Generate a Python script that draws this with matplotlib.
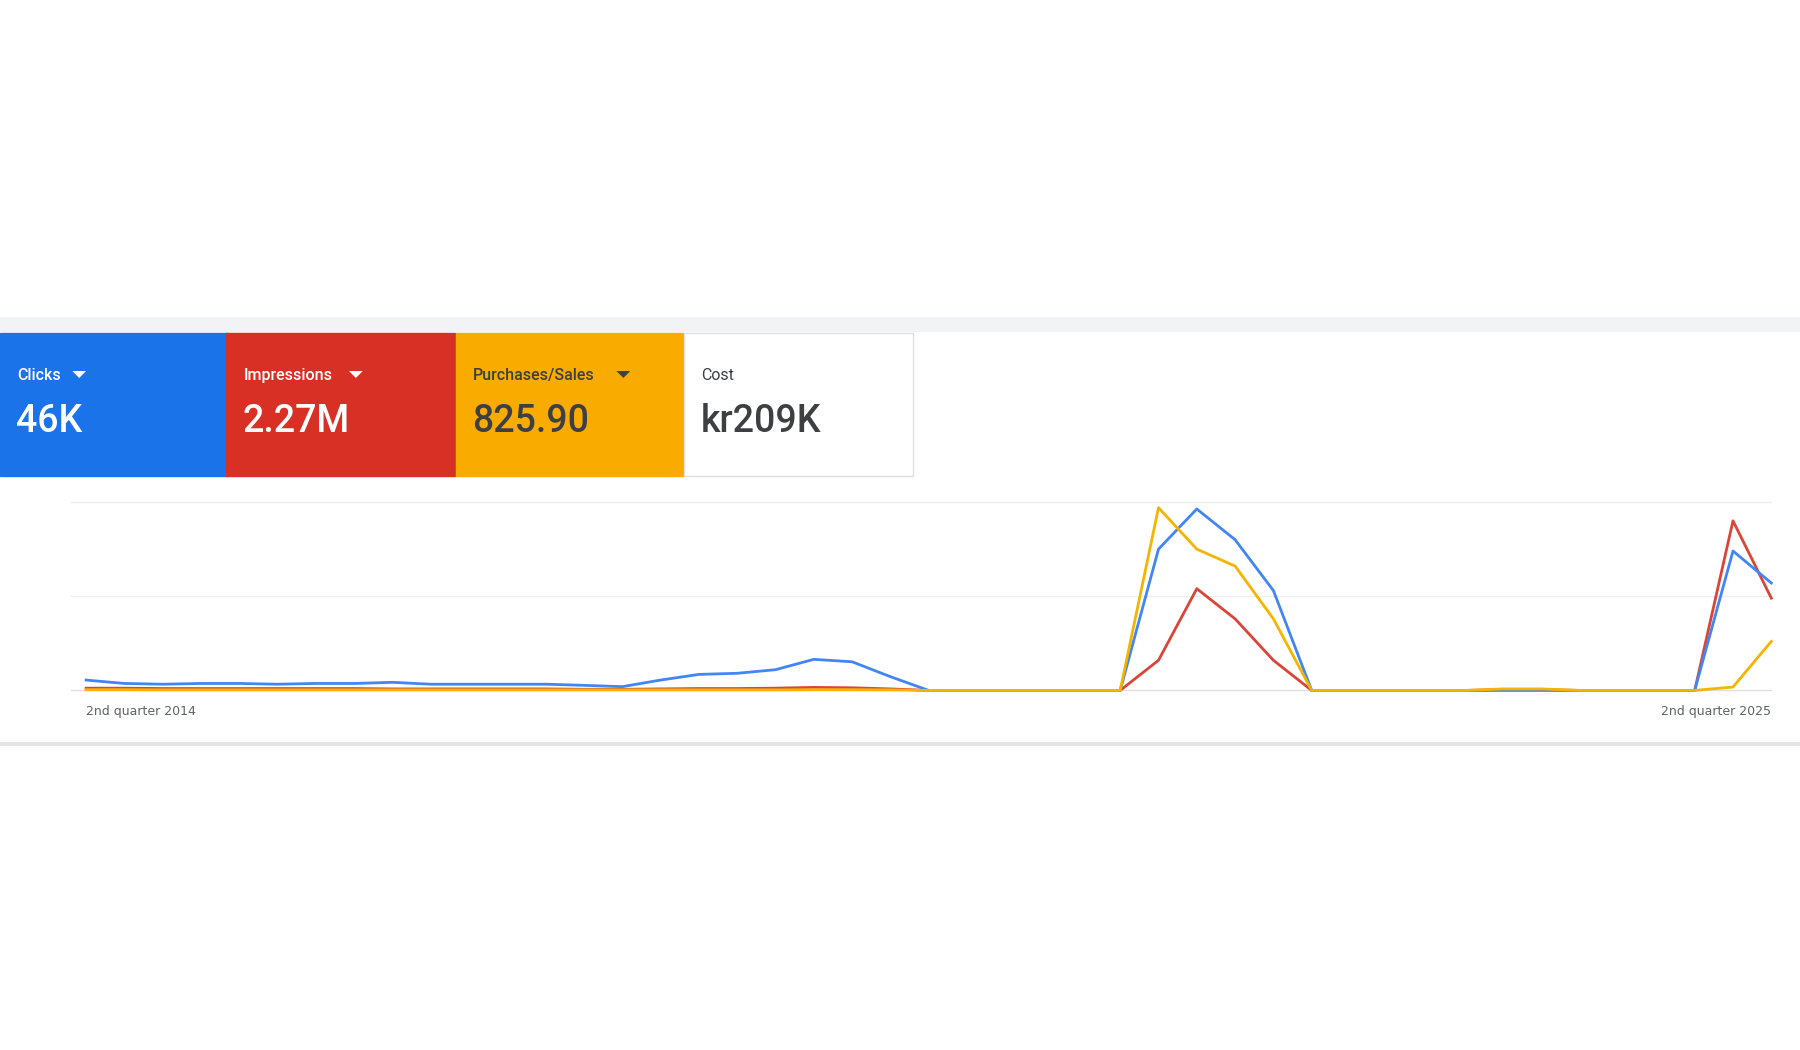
import matplotlib.pyplot as plt
from matplotlib.patches import Rectangle, Polygon

# quarterly values, normalised to the chart height (0 = baseline, 1 = top gridline)
clicks = [0.055, 0.037, 0.033, 0.037, 0.037, 0.033, 0.037, 0.037, 0.043, 0.033,
          0.033, 0.033, 0.033, 0.027, 0.020, 0.055, 0.085, 0.091, 0.110, 0.165,
          0.152, 0.073, 0.0, 0.0, 0.0, 0.0, 0.0, 0.0, 0.75, 0.963,
          0.80, 0.53, 0.0, 0.0, 0.0, 0.0, 0.0, 0.0, 0.0, 0.0,
          0.0, 0.0, 0.0, 0.74, 0.57]
impressions = [0.012, 0.012, 0.010, 0.010, 0.010, 0.010, 0.010, 0.010, 0.008, 0.008,
               0.008, 0.008, 0.008, 0.006, 0.006, 0.008, 0.010, 0.010, 0.012, 0.016,
               0.014, 0.008, 0.0, 0.0, 0.0, 0.0, 0.0, 0.0, 0.16, 0.54,
               0.38, 0.16, 0.0, 0.0, 0.0, 0.0, 0.0, 0.004, 0.004, 0.0,
               0.0, 0.0, 0.0, 0.90, 0.49]
purchases = [0.004, 0.004, 0.003, 0.003, 0.003, 0.003, 0.003, 0.003, 0.003, 0.003,
             0.003, 0.003, 0.003, 0.003, 0.003, 0.003, 0.003, 0.003, 0.003, 0.004,
             0.004, 0.003, 0.0, 0.0, 0.0, 0.0, 0.0, 0.0, 0.97, 0.75,
             0.66, 0.38, 0.0, 0.0, 0.0, 0.0, 0.0, 0.008, 0.008, 0.0,
             0.0, 0.0, 0.0, 0.018, 0.26]
x_labels = ['2nd quarter 2014', '2nd quarter 2025']

card_labels = ['Clicks', 'Impressions', 'Purchases/Sales', 'Cost']
card_values = ['46K', '2.27M', '825.90', 'kr209K']
card_colors = ['#1a73e8', '#d93025', '#f9ab00', '#ffffff']
card_text = ['white', 'white', '#3c4043', '#3c4043']

W, H = 1568, 914  # layout measured in these units

fig = plt.figure(figsize=(18, 10.5), dpi=100)

def box(x, y, w, h, **kw):
    fig.patches.append(Rectangle((x / W, 1 - (y + h) / H), w / W, h / H,
                                 transform=fig.transFigure, **kw))

# panel background, top strip and shadow
box(0, 646, W, 3, color='#e3e3e3', lw=0)
box(0, 289, W, 357, color='white', lw=0)
box(0, 276, W, 13, color='#f1f3f4', lw=0)

for i, (lab, val, col, tc) in enumerate(zip(card_labels, card_values, card_colors, card_text)):
    x0 = [0, 197, 397, 596][i]
    box(x0, 290, 199, 124, facecolor=col, edgecolor='#e0e0e0' if col == '#ffffff' else col, lw=1)
    fig.text((x0 + 15) / W, 1 - 327 / H, lab, color=tc, fontsize=11.5, va='center',
             fontweight='medium' if i < 3 else 'normal', family='Roboto')
    if i < 3:
        tx = x0 + 15 + {0: 48, 1: 92, 2: 125}[i]
        fig.patches.append(Polygon([((tx) / W, 1 - 323 / H), ((tx + 12) / W, 1 - 323 / H),
                                    ((tx + 6) / W, 1 - 329 / H)], closed=True,
                                   transform=fig.transFigure, color=tc, lw=0))
    fig.text((x0 + 14) / W, 1 - 367 / H, val, color=tc, fontsize=27, va='center',
             family='Roboto', fontweight='medium')

# chart
ax = fig.add_axes([62 / W, 1 - 601 / H, (1543 - 62) / W, 164 / H], zorder=5)
ax.patch.set_alpha(0)
n = len(clicks)
xs = [75 + (1543 - 75) * i / (n - 1) for i in range(n)]
ax.set_xlim(62, 1543)
ax.set_ylim(0, 1)
for g in [0.5, 1.0]:
    ax.axhline(g, color='#eeeeee', lw=1, zorder=0)
ax.axhline(0, color='#e0e0e0', lw=1, zorder=0)
ax.plot(xs, clicks, color='#4285f4', lw=2, zorder=3)
ax.plot(xs, impressions, color='#db4437', lw=2, zorder=2)
ax.plot(xs, purchases, color='#f4b400', lw=2, zorder=4)
ax.set_axis_off()
for line in ax.lines:
    line.set_clip_on(False)

fig.text(75 / W, 1 - 619 / H, x_labels[0], fontsize=9, color='#5f6368', va='center')
fig.text(1543 / W, 1 - 619 / H, x_labels[1], fontsize=9, color='#5f6368', va='center', ha='right')

fig.savefig('out.png', dpi=100, facecolor='white')
